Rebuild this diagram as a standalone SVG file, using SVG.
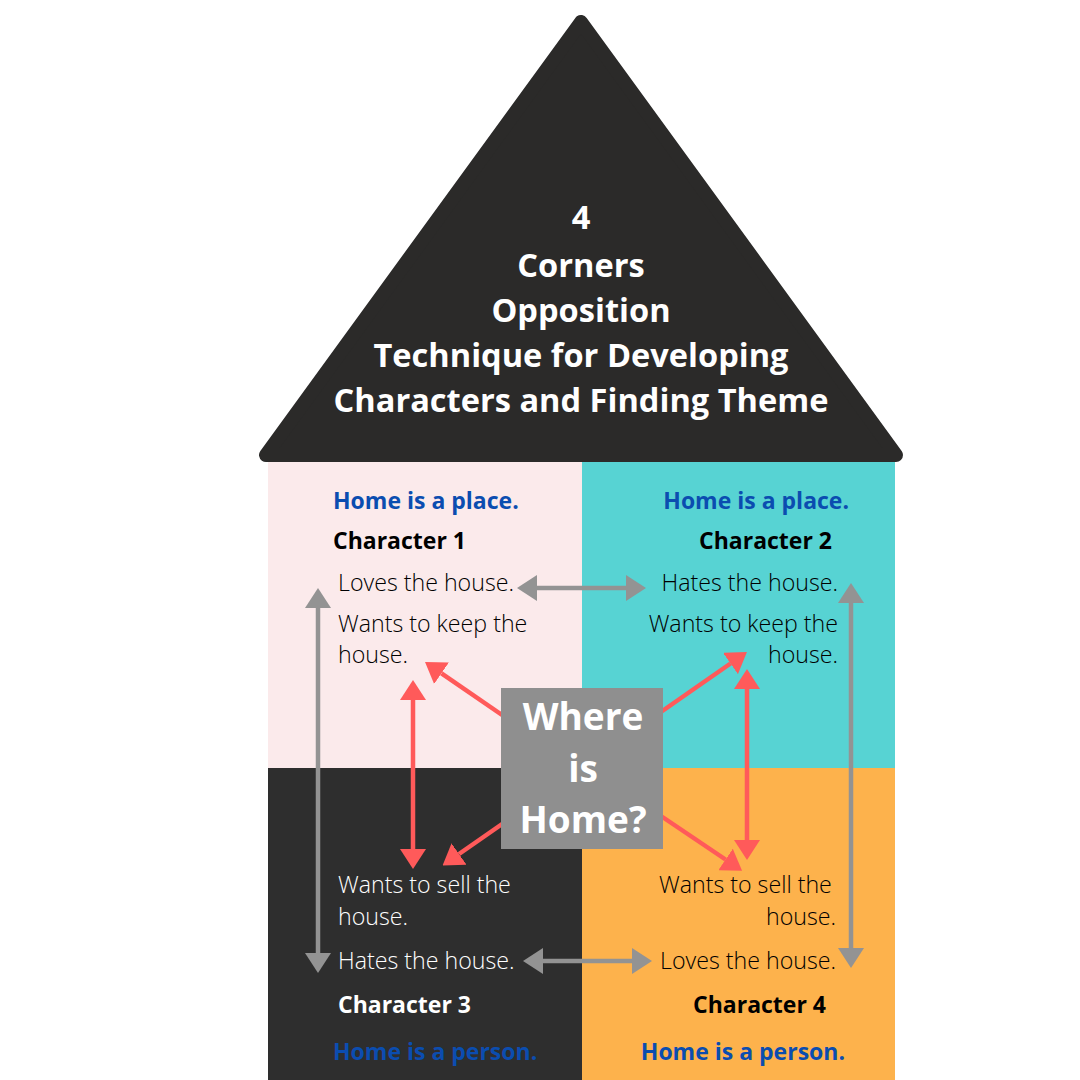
<svg xmlns="http://www.w3.org/2000/svg" width="1080" height="1080" viewBox="0 0 1080 1080">
<defs>
<style>
.title{font-family:"Open Sans","Liberation Sans",sans-serif;font-weight:700;font-size:32.6px;fill:#ffffff;text-anchor:middle}
.blue{font-family:"Open Sans","Liberation Sans",sans-serif;font-weight:700;font-size:23px;fill:#0B4DB0}
.char{font-family:"Open Sans","Liberation Sans",sans-serif;font-weight:700;font-size:23px;fill:#000000}
.body{font-family:"Open Sans","Liberation Sans",sans-serif;font-weight:300;font-size:23.2px;fill:#000000}
.w{fill:#ffffff}
.end{text-anchor:end}
.box{font-family:"Open Sans","Liberation Sans",sans-serif;font-weight:700;font-size:37px;fill:#ffffff;text-anchor:middle}
.g{stroke:#939393;stroke-width:4.5;fill:none}
.r{stroke:#FF5A5A;stroke-width:4.5;fill:none}
</style>
<marker id="ag" viewBox="0 0 20 26" refX="0" refY="13" markerWidth="20" markerHeight="26" markerUnits="userSpaceOnUse" orient="auto-start-reverse"><path d="M0,0 L20,13 L0,26 z" fill="#939393"/></marker>
<marker id="ar" viewBox="0 0 20 26" refX="0" refY="13" markerWidth="20" markerHeight="26" markerUnits="userSpaceOnUse" orient="auto-start-reverse"><path d="M0,0 L20,13 L0,26 z" fill="#FF5A5A"/></marker>
</defs>
<rect width="1080" height="1080" fill="#ffffff"/>
<g id="quadrants">
<rect x="268" y="462" width="314" height="306" fill="#FBEAEB"/>
<rect x="582" y="462" width="313" height="306" fill="#57D3D3"/>
<rect x="268" y="768" width="314" height="312" fill="#2E2E2E"/>
<rect x="582" y="768" width="313" height="312" fill="#FDB24C"/>
</g>
<g id="roof">
<polygon points="581,22 266,455 896,455" fill="#2B2A29" stroke="#2B2A29" stroke-width="14" stroke-linejoin="round"/>
<text class="title" x="581" y="229">4</text>
<text class="title" x="581" y="277">Corners</text>
<text class="title" x="581" y="322">Opposition</text>
<text class="title" x="581" y="367">Technique for Developing</text>
<text class="title" x="581" y="412">Characters and Finding Theme</text>
</g>
<g id="connectors">
<line class="g" x1="537" y1="588" x2="626" y2="588" marker-start="url(#ag)" marker-end="url(#ag)"/>
<line class="g" x1="543" y1="961" x2="632" y2="961" marker-start="url(#ag)" marker-end="url(#ag)"/>
<line class="g" x1="318" y1="608" x2="318" y2="953" marker-start="url(#ag)" marker-end="url(#ag)"/>
<line class="g" x1="851" y1="603" x2="851" y2="948" marker-start="url(#ag)" marker-end="url(#ag)"/>
<line class="r" x1="413" y1="700" x2="413" y2="849" marker-start="url(#ar)" marker-end="url(#ar)"/>
<line class="r" x1="747" y1="689" x2="747" y2="840" marker-start="url(#ar)" marker-end="url(#ar)"/>
<line class="r" x1="505" y1="717" x2="441.5" y2="673.3" marker-end="url(#ar)"/>
<line class="r" x1="505" y1="822" x2="459" y2="854" marker-end="url(#ar)"/>
<line class="r" x1="658" y1="714" x2="730.5" y2="663.5" marker-end="url(#ar)"/>
<line class="r" x1="658" y1="814" x2="725.5" y2="859.5" marker-end="url(#ar)"/>
</g>
<g id="center">
<rect x="501" y="688" width="162" height="161" fill="#8F8F8F"/>
<text class="box" x="583" y="730">Where</text>
<text class="box" x="583" y="782">is</text>
<text class="box" x="583" y="833">Home?</text>
</g>
<g id="character1">
<text class="blue" x="333" y="509">Home is a place.</text>
<text class="char" x="333" y="549">Character 1</text>
<text class="body" x="338" y="591">Loves the house.</text>
<text class="body" x="338" y="632">Wants to keep the</text>
<text class="body" x="338" y="663">house.</text>
</g>
<g id="character2">
<text class="blue end" x="849" y="509">Home is a place.</text>
<text class="char end" x="832" y="549">Character 2</text>
<text class="body end" x="838" y="591">Hates the house.</text>
<text class="body end" x="838" y="632">Wants to keep the</text>
<text class="body end" x="838" y="663">house.</text>
</g>
<g id="character3">
<text class="body w" x="338" y="893">Wants to sell the</text>
<text class="body w" x="338" y="925">house.</text>
<text class="body w" x="338" y="969">Hates the house.</text>
<text class="char w" x="338" y="1013">Character 3</text>
<text class="blue" x="333" y="1060">Home is a person.</text>
</g>
<g id="character4">
<text class="body" x="659" y="893">Wants to sell the</text>
<text class="body end" x="836" y="925">house.</text>
<text class="body end" x="836" y="969">Loves the house.</text>
<text class="char end" x="826" y="1013">Character 4</text>
<text class="blue end" x="845" y="1060">Home is a person.</text>
</g>
</svg>
